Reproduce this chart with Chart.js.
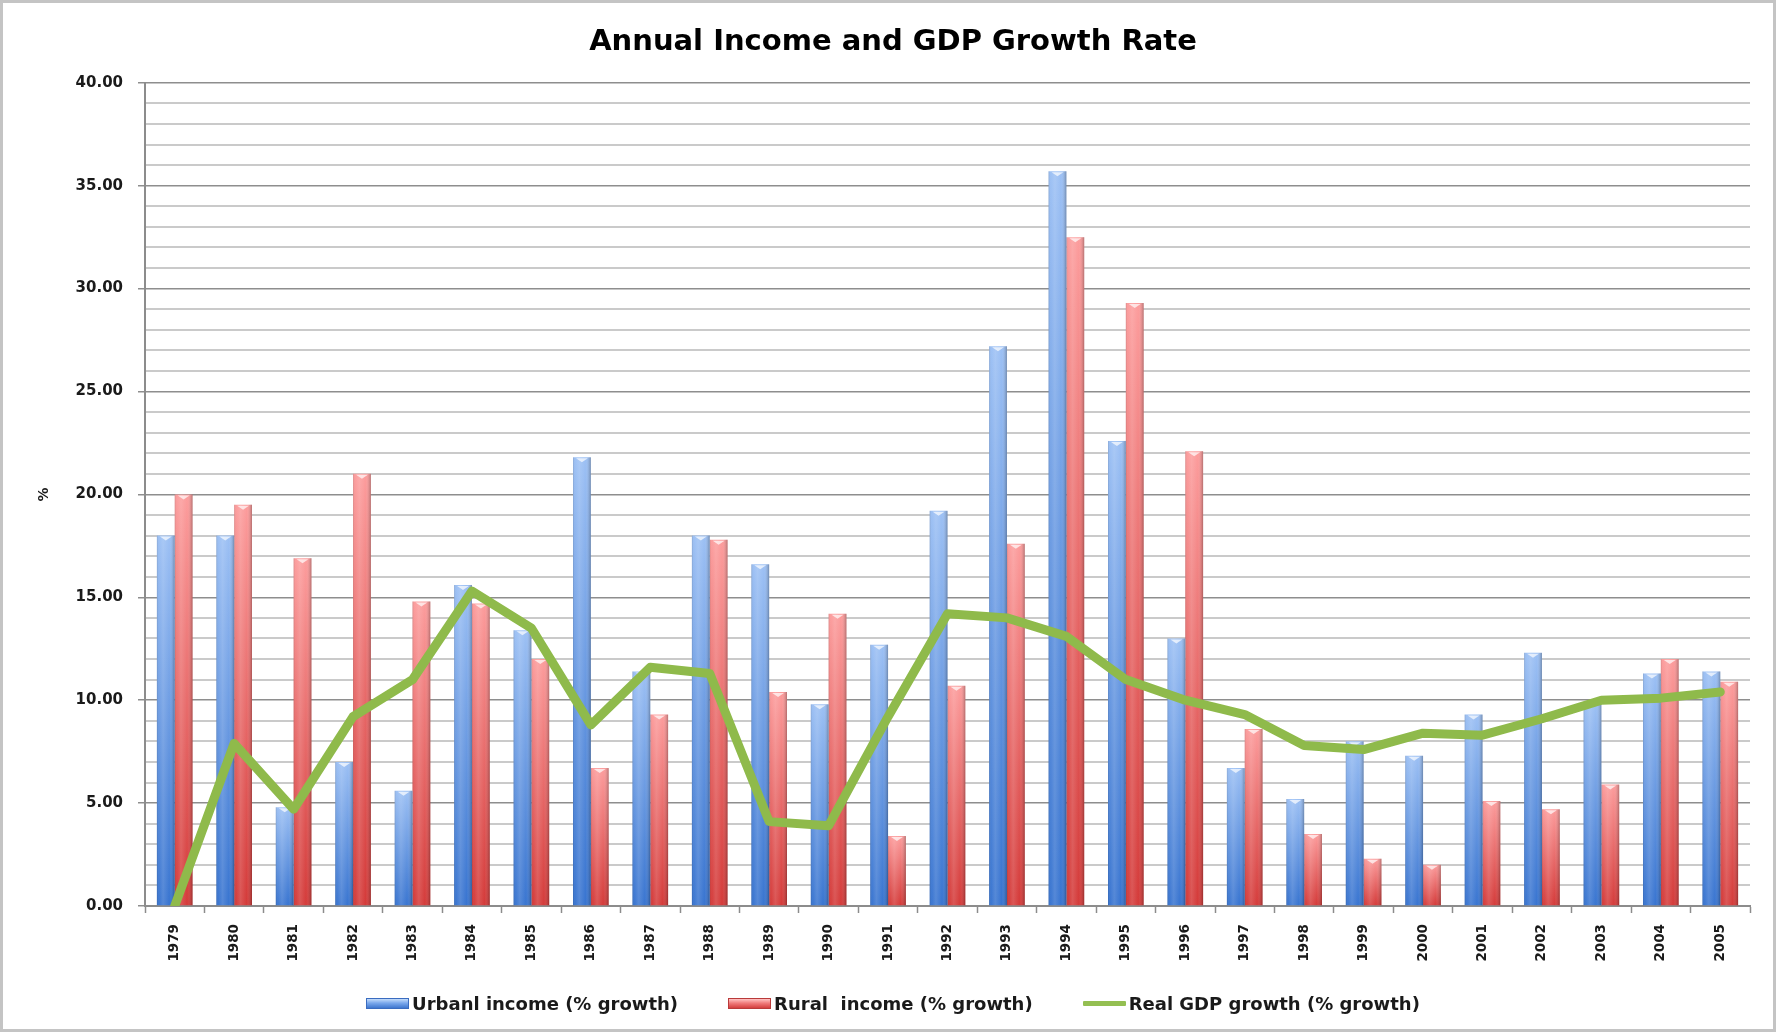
<!DOCTYPE html>
<html>
<head>
<meta charset="utf-8">
<title>Annual Income and GDP Growth Rate</title>
<script src="https://cdn.jsdelivr.net/npm/chart.js@4.4.1/dist/chart.umd.min.js"></script>
<style>
  html, body { margin: 0; padding: 0; background: #fff; }
  #wrap { position: relative; width: 1776px; height: 1032px; }
  #legend {
    position: absolute; left: 36px; width: 1714px; top: 991px; height: 24px;
    display: flex; justify-content: center; align-items: center; gap: 50px;
    font: bold 18px "DejaVu Sans", sans-serif; color: #1a1a1a; white-space: pre;
  }
  #legend .item { display: flex; align-items: center; }
  #legend .box { width: 43px; height: 11px; margin-right: 3px; box-sizing: border-box; }
</style>
</head>
<body>
<div id="wrap">
  <canvas id="myChart" width="1776" height="1032"></canvas>
  <div id="legend"></div>
</div>
<script>
const years = ['1979', '1980', '1981', '1982', '1983', '1984', '1985', '1986', '1987',
  '1988', '1989', '1990', '1991', '1992', '1993', '1994', '1995', '1996', '1997',
  '1998', '1999', '2000', '2001', '2002', '2003', '2004', '2005'];

const urbanIncome = [18.0, 18.0, 4.8, 7.0, 5.6, 15.6, 13.4, 21.8, 11.4, 18.0, 16.6, 9.8,
  12.7, 19.2, 27.2, 35.7, 22.6, 13.0, 6.7, 5.2, 8.0, 7.3, 9.3, 12.3, 9.9, 11.3, 11.4];

const ruralIncome = [20.0, 19.5, 16.9, 21.0, 14.8, 14.7, 12.0, 6.7, 9.3, 17.8, 10.4, 14.2,
  3.4, 10.7, 17.6, 32.5, 29.3, 22.1, 8.6, 3.5, 2.3, 2.0, 5.1, 4.7, 5.9, 12.0, 10.9];

const realGdp = [0, 7.9, 4.7, 9.2, 11.0, 15.3, 13.5, 8.8, 11.6, 11.3, 4.1, 3.9,
  9.2, 14.2, 14.0, 13.1, 11.0, 10.0, 9.3, 7.8, 7.6, 8.4, 8.3, 9.1, 10.0, 10.1, 10.4];

const yTickLabels = ['0.00', '5.00', '10.00', '15.00', '20.00', '25.00', '30.00', '35.00', '40.00'];

Chart.defaults.font.family = '"DejaVu Sans", sans-serif';
Chart.defaults.color = '#1a1a1a';

// vertical gradient per bar, light at the top, saturated at the base
function barFill(light, dark) {
  return (c) => {
    const chart = c.chart;
    if (!chart.chartArea || c.type !== 'data') return dark;
    const y = chart.scales.y;
    const top = y.getPixelForValue(c.raw);
    const base = y.getPixelForValue(0);
    if (!isFinite(top) || base - top < 1) return dark;
    const g = chart.ctx.createLinearGradient(0, top, 0, base);
    g.addColorStop(0, light);
    g.addColorStop(1, dark);
    return g;
  };
}

const isMajor = (c) => c.tick && Math.round(c.tick.value) % 5 === 0;

// the little cylinder look of the Excel bars
const barShade = {
  id: 'barShade',
  afterDatasetDraw(chart, args) {
    if (args.meta.type !== 'bar') return;
    const ctx = chart.ctx;
    ctx.save();
    args.meta.data.forEach((bar) => {
      const {x, y, base, width} = bar.getProps(['x', 'y', 'base', 'width'], true);
      const h = base - y;
      if (h < 1) return;
      const l = x - width / 2;
      const g = ctx.createLinearGradient(l, 0, l + width, 0);
      g.addColorStop(0, 'rgba(0,0,0,0.14)');
      g.addColorStop(0.12, 'rgba(255,255,255,0.02)');
      g.addColorStop(0.35, 'rgba(255,255,255,0.14)');
      g.addColorStop(0.7, 'rgba(255,255,255,0)');
      g.addColorStop(1, 'rgba(0,0,0,0.28)');
      ctx.fillStyle = g;
      ctx.fillRect(l, y, width, h);
      ctx.fillStyle = 'rgba(255,255,255,0.7)';
      ctx.beginPath();
      ctx.moveTo(l + 3, y + 1);
      ctx.lineTo(l + width - 3, y + 1);
      ctx.lineTo(x, y + 5);
      ctx.closePath();
      ctx.fill();
    });
    ctx.restore();
  }
};

const frame = {
  id: 'frame',
  beforeDraw(chart) {
    const ctx = chart.ctx;
    ctx.save();
    ctx.fillStyle = '#ffffff';
    ctx.fillRect(0, 0, chart.width, chart.height);
    ctx.strokeStyle = '#c4c4c4';
    ctx.lineWidth = 3;
    ctx.strokeRect(1.5, 1.5, chart.width - 3, chart.height - 3);
    ctx.restore();
  }
};

const legendBoxes = [
  'background: linear-gradient(#c4dcfa, #7aa8ec 45%, #3f77cf); border: 1px solid #3a6cc0;',
  'background: linear-gradient(#ffc4c4, #f07c7c 45%, #d43f3e); border: 1px solid #b93a3a;',
  'height: 5px; background: #94bf52; border-radius: 1px;'
];

const htmlLegend = {
  id: 'htmlLegend',
  afterUpdate(chart) {
    const box = document.getElementById('legend');
    box.innerHTML = '';
    chart.data.datasets.forEach((ds, i) => {
      const item = document.createElement('div');
      item.className = 'item';
      const swatch = document.createElement('span');
      swatch.className = 'box';
      swatch.style.cssText = legendBoxes[i];
      const text = document.createElement('span');
      text.textContent = ds.label;
      item.appendChild(swatch);
      item.appendChild(text);
      box.appendChild(item);
    });
  }
};

new Chart(document.getElementById('myChart'), {
  data: {
    labels: years,
    datasets: [
      {
        type: 'bar',
        label: 'Urbanl income (% growth)',
        data: urbanIncome,
        backgroundColor: barFill('#9cc0f4', '#3874d0'),
        borderWidth: 0,
        order: 2,
      },
      {
        type: 'bar',
        label: 'Rural  income (% growth)',
        data: ruralIncome,
        backgroundColor: barFill('#fc9c9c', '#d43a39'),
        borderWidth: 0,
        order: 2,
      },
      {
        type: 'line',
        label: 'Real GDP growth (% growth)',
        data: realGdp,
        borderColor: '#8fba4b',
        backgroundColor: '#8fba4b',
        borderWidth: 9,
        borderJoinStyle: 'round',
        borderCapStyle: 'round',
        pointRadius: 0,
        tension: 0,
        order: 1,
      },
    ],
  },
  options: {
    responsive: false,
    animation: false,
    devicePixelRatio: 1,
    datasets: {
      bar: { categoryPercentage: 0.6, barPercentage: 1.0 },
    },
    layout: {
      padding: { left: 36, right: 26, top: 0, bottom: 66 },
    },
    plugins: {
      title: {
        display: true,
        text: 'Annual Income and GDP Growth Rate',
        color: '#000',
        font: { size: 29, weight: 'bold' },
        padding: { top: 25, bottom: 23 },
      },
      legend: { display: false },
      tooltip: { enabled: false },
    },
    scales: {
      x: {
        afterFit: (s) => { s.height = 60; },
        grid: {
          offset: true,
          drawOnChartArea: false,
          drawTicks: true,
          tickLength: 7,
          tickColor: '#8c8c8c',
          tickWidth: 1.5,
        },
        border: { color: '#8c8c8c', width: 2 },
        ticks: {
          minRotation: 90,
          maxRotation: 90,
          autoSkip: false,
          padding: 11,
          color: '#1a1a1a',
          font: { size: 13.5, weight: 'bold' },
        },
      },
      y: {
        min: 0,
        max: 40,
        afterFit: (s) => { s.width = 109; },
        title: {
          display: true,
          text: '%',
          color: '#1a1a1a',
          padding: { top: 0, bottom: 0 },
          font: { size: 14, weight: 'bold' },
        },
        grid: {
          color: (c) => isMajor(c) ? '#8e8e8e' : '#cacaca',
          lineWidth: (c) => isMajor(c) ? 1.5 : 2,
          tickColor: (c) => isMajor(c) ? '#8e8e8e' : 'rgba(0,0,0,0)',
          tickLength: 7,
          tickWidth: 1.5,
        },
        border: { color: '#8c8c8c', width: 2 },
        ticks: {
          stepSize: 1,
          autoSkip: false,
          padding: 15,
          color: '#1a1a1a',
          font: { size: 15, weight: 'bold' },
          callback: (v) => (v % 5 === 0 ? yTickLabels[v / 5] : ''),
        },
      },
    },
  },
  plugins: [frame, barShade, htmlLegend],
});
</script>
</body>
</html>
